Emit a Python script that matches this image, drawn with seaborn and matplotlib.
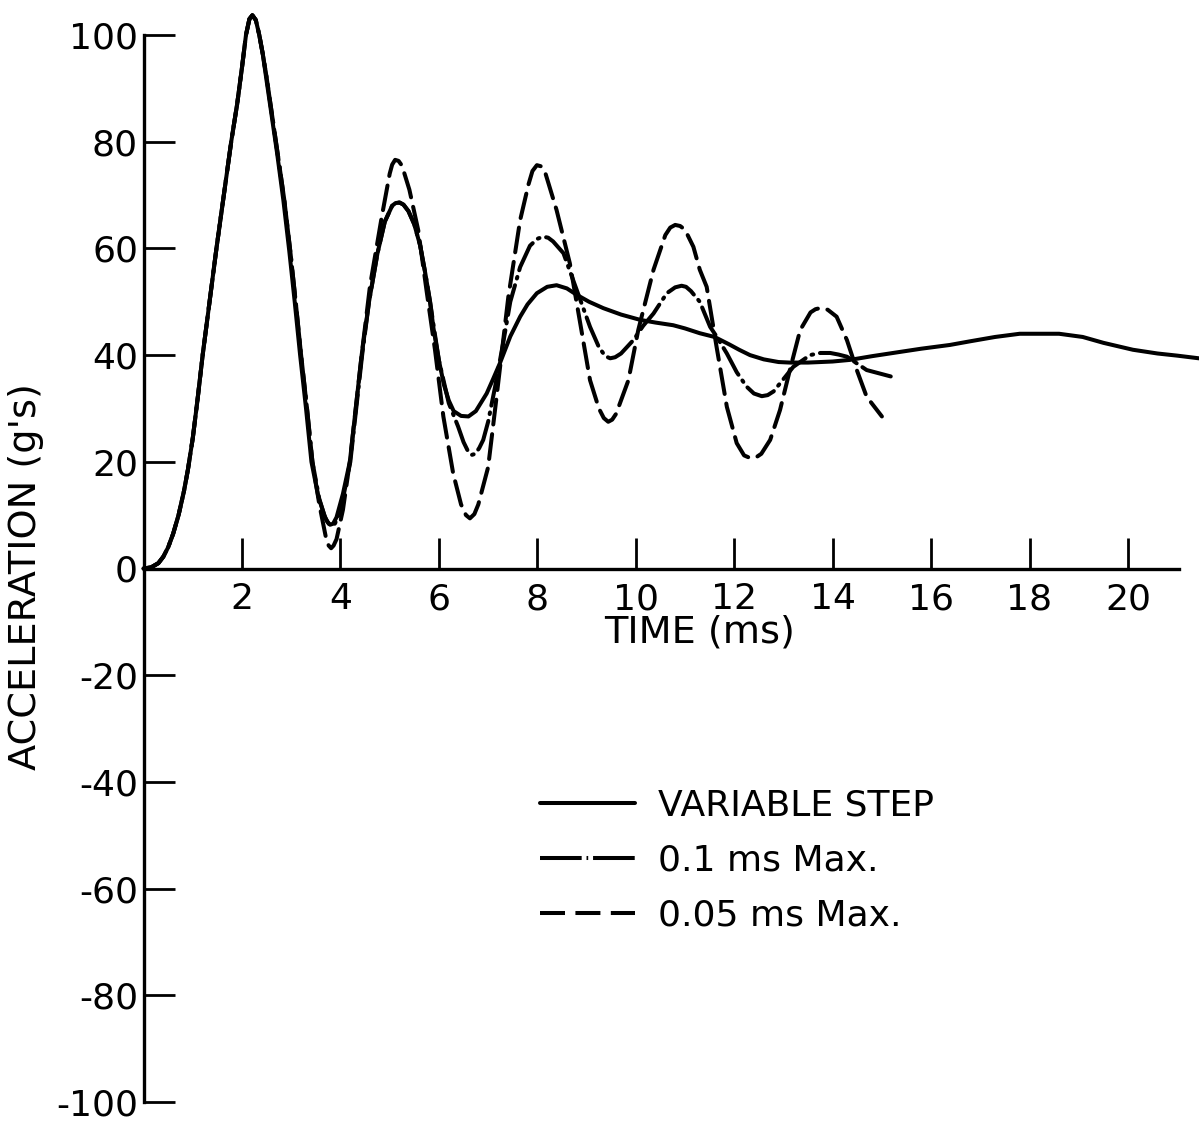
import matplotlib
matplotlib.use("Agg")
import matplotlib.pyplot as plt
from matplotlib.lines import Line2D
import seaborn as sns
import pandas as pd

# ---------------- data ----------------
t_var = [0.0, 0.15, 0.3, 0.4, 0.5, 0.6, 0.71, 0.82, 0.9, 1.0, 1.1, 1.2, 1.34, 1.48, 1.63, 1.78, 1.9,
         2.0, 2.08, 2.15, 2.21, 2.28, 2.35, 2.42, 2.49, 2.6, 2.71, 2.84, 2.96, 3.07, 3.18, 3.3,
         3.41, 3.55, 3.67, 3.73, 3.79, 3.85, 3.92, 4.05, 4.19, 4.31, 4.43, 4.58, 4.75, 4.9, 5.05,
         5.12, 5.2, 5.28, 5.38, 5.5, 5.62, 5.72, 5.82, 5.89, 6.0, 6.1, 6.2, 6.3, 6.45, 6.6, 6.75,
         6.97, 7.1, 7.24, 7.45, 7.65, 7.8, 7.99, 8.2, 8.39, 8.6, 8.8, 9.05, 9.34, 9.7, 10.09, 10.4,
         10.76, 11.0, 11.3, 11.6, 11.9, 12.1, 12.32, 12.6, 12.9, 13.13, 13.5, 14.0, 14.35, 14.8,
         15.37, 15.8, 16.38, 16.8, 17.3, 17.8, 18.1, 18.6, 19.08, 19.5, 20.1, 20.6, 21.0, 21.44]
a_var = [0.0, 0.2, 1.0, 2.2, 4.0, 6.5, 10.0, 14.5, 18.5, 24.5, 32.0, 40.0, 50.0, 60.0, 70.0, 80.0, 87.0,
         94.0, 100.0, 103.0, 103.7, 102.8, 100.0, 96.5, 92.0, 85.0, 78.0, 69.0, 59.5, 50.0, 40.0, 30.0,
         20.0, 13.5, 10.0, 8.8, 8.2, 8.4, 9.6, 14.0, 20.0, 30.0, 40.0, 50.0, 59.0, 65.0, 68.0,
         68.5, 68.6, 68.2, 67.0, 64.5, 60.5, 55.5, 50.0, 45.0, 39.0, 34.5, 31.5, 29.5, 28.6, 28.5, 29.5,
         32.8, 35.5, 38.5, 43.5, 47.2, 49.5, 51.6, 52.8, 53.1, 52.5, 51.3, 50.0, 48.8, 47.6, 46.6, 46.1,
         45.6, 45.0, 44.1, 43.4, 42.0, 41.0, 40.0, 39.2, 38.7, 38.6, 38.6, 38.8, 39.1, 39.8,
         40.6, 41.2, 41.9, 42.6, 43.4, 44.0, 44.0, 44.0, 43.4, 42.3, 41.0, 40.3, 39.9, 39.4]

t_01 = [0.0, 0.15, 0.3, 0.4, 0.5, 0.6, 0.71, 0.82, 0.9, 1.0, 1.1, 1.2, 1.34, 1.48, 1.63, 1.78, 1.9,
        2.0, 2.08, 2.15, 2.21, 2.28, 2.35, 2.42, 2.5, 2.61, 2.72, 2.86, 2.98, 3.09, 3.2, 3.32,
        3.43, 3.57, 3.69, 3.76, 3.82, 3.88, 3.95, 4.07, 4.2, 4.32, 4.44, 4.58, 4.75, 4.9, 5.05,
        5.12, 5.2, 5.28, 5.38, 5.5, 5.62, 5.72, 5.82, 5.9, 6.0, 6.2, 6.39, 6.5, 6.6, 6.67, 6.74,
        6.82, 6.9, 7.0, 7.14, 7.3, 7.45, 7.65, 7.85, 8.0, 8.12, 8.22, 8.32, 8.53, 8.8, 9.07, 9.25,
        9.38, 9.48, 9.58, 9.7, 9.95, 10.15, 10.36, 10.63, 10.8, 10.93, 11.02, 11.12, 11.3, 11.51,
        11.64, 11.85, 12.05, 12.25, 12.4, 12.56, 12.68, 12.8, 12.93, 13.2, 13.54, 13.75, 13.95,
        14.12, 14.29, 14.69, 15.18]
a_01 = [0.0, 0.2, 1.0, 2.2, 4.0, 6.5, 10.0, 14.5, 18.5, 24.5, 32.0, 40.0, 50.0, 60.0, 70.0, 80.0, 87.0,
        94.0, 100.0, 103.0, 103.7, 102.8, 100.0, 96.5, 92.0, 85.0, 78.0, 69.0, 59.5, 50.0, 40.0, 30.0,
        20.0, 13.0, 9.5, 8.4, 8.0, 8.3, 9.6, 14.0, 20.0, 30.0, 40.0, 50.0, 59.0, 65.0, 68.0,
        68.5, 68.6, 68.2, 67.0, 64.5, 60.5, 55.5, 50.0, 45.0, 39.0, 31.0, 26.6, 23.7, 21.8, 21.3, 21.5,
        22.6, 24.1, 27.5, 34.0, 42.0, 50.0, 56.5, 60.5, 61.8, 62.2, 62.0, 61.3, 59.1, 52.2, 45.3, 41.5,
        39.8, 39.4, 39.6, 40.3, 42.8, 45.5, 47.8, 51.6, 52.7, 53.0, 52.8, 52.0, 50.0, 45.3,
        43.5, 40.3, 36.8, 34.1, 32.8, 32.3, 32.5, 33.2, 34.7, 37.8, 40.0, 40.4, 40.4,
        40.1, 39.7, 37.2, 36.0]

t_005 = [0.0, 0.15, 0.3, 0.4, 0.5, 0.6, 0.71, 0.82, 0.9, 1.0, 1.1, 1.2, 1.34, 1.48, 1.63, 1.78, 1.9,
         2.0, 2.08, 2.15, 2.21, 2.28, 2.35, 2.42, 2.5, 2.61, 2.72, 2.86, 2.98, 3.09, 3.2, 3.32,
         3.43, 3.57, 3.7, 3.76, 3.81, 3.86, 3.92, 4.05, 4.19, 4.31, 4.43, 4.6, 4.84, 5.0, 5.05,
         5.11, 5.18, 5.25, 5.4, 5.58, 5.75, 5.92, 6.09, 6.29, 6.45, 6.55, 6.63, 6.72, 6.8, 7.0,
         7.15, 7.41, 7.65, 7.82, 7.9, 7.99, 8.07, 8.15, 8.39, 8.66, 8.87, 9.07, 9.25, 9.35, 9.44,
         9.52, 9.6, 9.85, 10.05, 10.36, 10.6, 10.7, 10.8, 10.9, 11.0, 11.17, 11.3, 11.44, 11.64,
         11.85, 12.05, 12.2, 12.3, 12.39, 12.47, 12.55, 12.73, 12.93, 13.13, 13.34, 13.55, 13.65,
         13.74, 13.82, 13.9, 14.08, 14.29, 14.49, 14.69, 15.0]
a_005 = [0.0, 0.2, 1.0, 2.2, 4.0, 6.5, 10.0, 14.5, 18.5, 24.5, 32.0, 40.0, 50.0, 60.0, 70.0, 80.0, 87.0,
         94.0, 100.0, 103.0, 103.7, 102.8, 100.0, 96.5, 92.0, 85.0, 78.0, 69.0, 59.5, 50.0, 40.0, 30.0,
         20.0, 12.0, 6.0, 4.3, 3.8, 4.3, 5.5, 11.0, 20.0, 30.0, 40.0, 53.0, 66.0, 74.0, 75.7,
         76.6, 76.4, 75.5, 71.0, 63.4, 52.0, 41.0, 28.5, 17.8, 12.0, 10.0, 9.4, 10.2, 12.0, 19.0,
         30.5, 50.9, 65.3, 72.0, 74.5, 75.6, 75.4, 74.5, 67.2, 57.2, 46.0, 35.3, 30.0, 28.2, 27.5,
         27.9, 29.0, 35.3, 44.7, 56.0, 62.5, 63.9, 64.4, 64.2, 63.5, 60.3, 56.0, 52.8, 41.6,
         30.3, 23.5, 21.2, 20.8, 20.7, 21.0, 21.5, 24.1, 29.7, 37.2, 44.7, 48.0, 48.6,
         48.8, 48.7, 48.5, 47.2, 42.8, 37.2, 32.2, 28.5]

series_names = ["VARIABLE STEP", "0.1 ms Max.", "0.05 ms Max."]
x_ticks = [2, 4, 6, 8, 10, 12, 14, 16, 18, 20]
y_ticks = [-100, -80, -60, -40, -20, 0, 20, 40, 60, 80, 100]
y_tick_labels = ["-100", "-80", "-60", "-40", "-20", "0", "20", "40", "60", "80", "100"]

# ---------------- styling ----------------
sns.set_style("white")
plt.rcParams["font.family"] = ["DejaVu Sans"]
plt.rcParams["lines.scale_dashes"] = False
plt.rcParams["axes.unicode_minus"] = False

W, H = 1199, 1124
fig = plt.figure(figsize=(W / 100, H / 100), dpi=100)
ax = fig.add_axes([0, 0, 1, 1])
ax.set_facecolor("white")

px_per_ms = 49.22
x0_px = 143.6
px_per_g = 5.335
y0_px = 568.5
ax.set_xlim(-x0_px / px_per_ms, (W - x0_px) / px_per_ms)
ax.set_ylim((y0_px - H) / px_per_g, y0_px / px_per_g)

LW = 2.9
styles = [
    dict(linestyle="-"),
    dict(linestyle=(0, (22, 5, 1.2, 5))),
    dict(linestyle=(0, (18, 7))),
]
data = [(t_var, a_var), (t_01, a_01), (t_005, a_005)]
for (tt, aa), name, st in zip(data, series_names, styles):
    df = pd.DataFrame({"t": tt, "a": aa})
    n_before = len(ax.lines)
    sns.lineplot(data=df, x="t", y="a", ax=ax, color="black", linewidth=LW,
                 sort=False, estimator=None, legend=False, **st)
    ln = ax.lines[n_before]
    ln.set_solid_capstyle("round")
    ln.set_dash_capstyle("round")
    ln.set_solid_joinstyle("round")

# spines
for s in ["top", "right"]:
    ax.spines[s].set_visible(False)
ax.spines["left"].set_position(("data", 0))
ax.spines["bottom"].set_position(("data", 0))
ax.spines["left"].set_bounds(-100, 100)
ax.spines["bottom"].set_bounds(0, 21.04)
for s in ["left", "bottom"]:
    ax.spines[s].set_linewidth(2.4)
    ax.spines[s].set_color("black")

ax.set_xticks(x_ticks)
ax.set_xticklabels([str(v) for v in x_ticks])
ax.set_yticks(y_ticks)
ax.set_yticklabels(y_tick_labels)
ax.tick_params(axis="both", direction="in", length=22, width=2.0, color="black",
               labelsize=26, labelcolor="black", left=True, bottom=True)
ax.tick_params(axis="y", pad=4)
ax.tick_params(axis="x", pad=10)

ax.set_xlabel("TIME (ms)", fontsize=27.5, color="black")
ax.xaxis.set_label_coords(700 / W, 1 - 614 / H)
ax.set_ylabel("ACCELERATION (g's)", fontsize=27.5, color="black")
ax.yaxis.set_label_coords(44 / W, 1 - 577 / H)

# legend handles with the reference's key patterns
h_solid = Line2D([], [], color="black", lw=LW, linestyle="-")
h_dd = Line2D([], [], color="black", lw=LW, linestyle=(0, (30, 3.5, 1.2, 3.5, 30, 3.5)))
h_da = Line2D([], [], color="black", lw=LW, linestyle=(0, (18, 7.5)))
leg = ax.legend([h_solid, h_dd, h_da], series_names, loc="upper left",
                bbox_to_anchor=(540 / W, 1 - 789 / H), bbox_transform=fig.transFigure,
                frameon=False, fontsize=26, handlelength=2.64, handletextpad=0.62,
                labelspacing=0.57, borderpad=0, borderaxespad=0)
for txt in leg.get_texts():
    txt.set_color("black")

fig.savefig("out.png", dpi=100, facecolor="white")
